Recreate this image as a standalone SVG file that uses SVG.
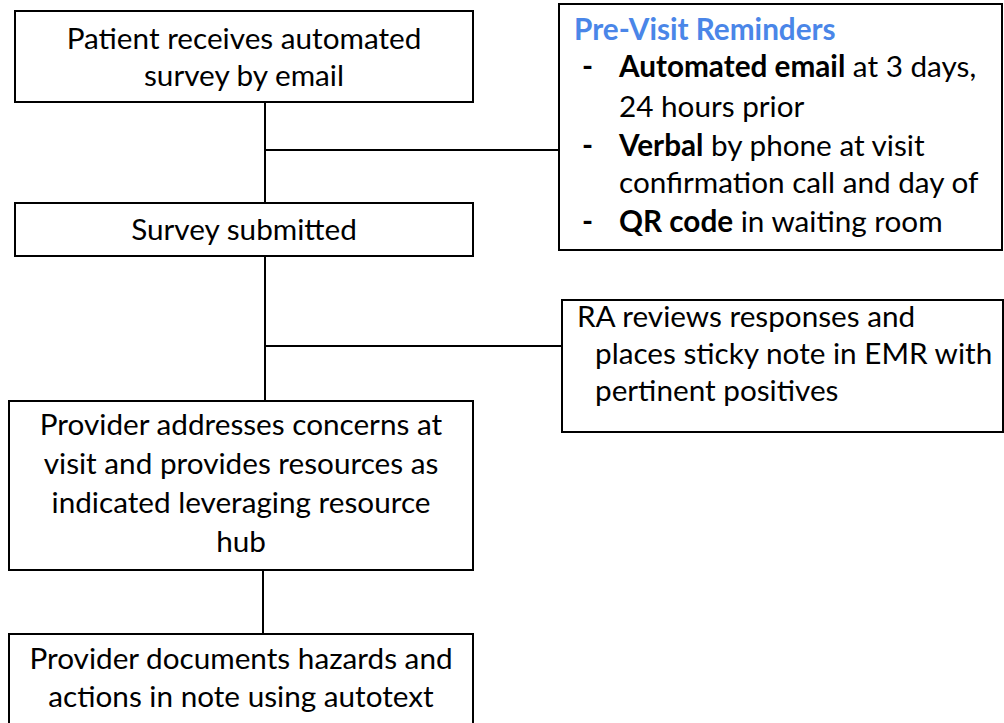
<svg xmlns="http://www.w3.org/2000/svg" width="1004" height="723" viewBox="0 0 1004 723">
  <style>
    .box { fill: #ffffff; stroke: #000000; stroke-width: 2; }
    .line { stroke: #000000; stroke-width: 2; fill: none; }
    text { font-family: Lato, "Open Sans", sans-serif; font-size: 29.7px; fill: #000000; }
    .c { text-anchor: middle; }
    .b { font-weight: bold; }
    .title { fill: #4a86e8; font-weight: bold; }
  </style>
  <rect width="1004" height="723" fill="#ffffff"/>

  <g id="connectors">
    <line class="line" x1="265" y1="102" x2="265" y2="203"/>
    <line class="line" x1="265" y1="150" x2="559" y2="150"/>
    <line class="line" x1="265" y1="256" x2="265" y2="401"/>
    <line class="line" x1="265" y1="346" x2="562" y2="346"/>
    <line class="line" x1="263" y1="570" x2="263" y2="634"/>
  </g>

  <g id="node-survey-email">
    <rect class="box" x="15" y="11" width="458" height="91"/>
    <text class="c" x="244" y="49">Patient receives automated</text>
    <text class="c" x="244" y="86">survey by email</text>
  </g>

  <g id="node-submitted">
    <rect class="box" x="15" y="203" width="458" height="53"/>
    <text class="c" x="244" y="240">Survey submitted</text>
  </g>

  <g id="node-provider-addresses">
    <rect class="box" x="9" y="401" width="464" height="169"/>
    <text class="c" x="241" y="435">Provider addresses concerns at</text>
    <text class="c" x="241" y="474">visit and provides resources as</text>
    <text class="c" x="241" y="513">indicated leveraging resource</text>
    <text class="c" x="241" y="552">hub</text>
  </g>

  <g id="node-provider-documents">
    <rect class="box" x="9" y="634" width="464" height="100"/>
    <text class="c" x="241" y="669">Provider documents hazards and</text>
    <text class="c" x="241" y="707">actions in note using autotext</text>
  </g>

  <g id="node-reminders">
    <rect class="box" x="559" y="4" width="443" height="246"/>
    <text class="title" x="574" y="40">Pre-Visit Reminders</text>
    <text class="b" x="582" y="77">-</text>
    <text x="619" y="77"><tspan class="b">Automated email</tspan> at 3 days,</text>
    <text x="619" y="117">24 hours prior</text>
    <text class="b" x="582" y="156">-</text>
    <text x="619" y="156"><tspan class="b">Verbal</tspan> by phone at visit</text>
    <text x="619" y="193">confirmation call and day of</text>
    <text class="b" x="582" y="232">-</text>
    <text x="619" y="232"><tspan class="b">QR code</tspan> in waiting room</text>
  </g>

  <g id="node-ra-review">
    <rect class="box" x="562" y="300" width="441" height="132"/>
    <text x="577" y="327">RA reviews responses and</text>
    <text x="595" y="364">places sticky note in EMR with</text>
    <text x="595" y="401">pertinent positives</text>
  </g>
</svg>
